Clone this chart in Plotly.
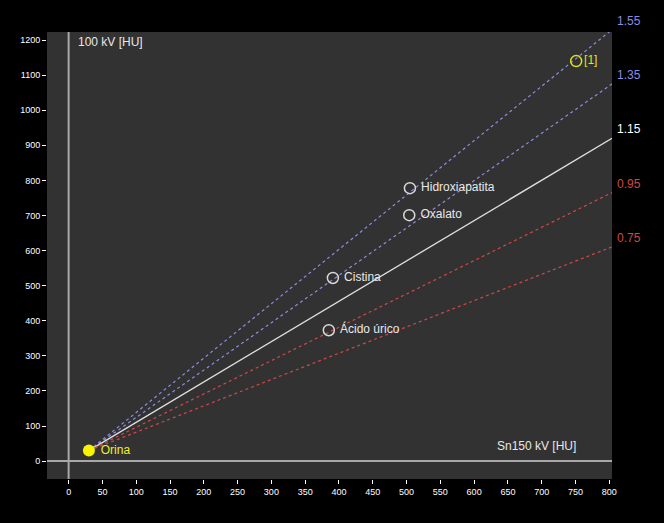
import plotly.graph_objects as go

# Data
slopes = [1.55, 1.35, 1.15, 0.95, 0.75]
slope_labels = ["1.55", "1.35", "1.15", "0.95", "0.75"]
slope_colors = ["#8c8ce0", "#8c8ce0", "#e0e0e0", "#d04848", "#d04848"]
slope_dash = ["dot", "dot", "solid", "dot", "dot"]

origin = (30, 30)  # Orina
materials = ["Hidroxiapatita", "Oxalato", "Cistina", "Ácido úrico"]
mat_x = [505, 504, 391, 385]
mat_y = [778, 701, 522, 373]
ref_label = "[1]"
ref_x, ref_y = 751, 1140

x_ticks = list(range(0, 801, 50))
y_ticks = list(range(0, 1201, 100))
x_end = 804
x_range = [-32, 804]
y_range = [-51, 1223]

fig = go.Figure()

for s, lab, col, d in zip(slopes, slope_labels, slope_colors, slope_dash):
    xe = x_end
    ye = origin[1] + s * (xe - origin[0])
    fig.add_trace(go.Scatter(x=[origin[0], xe], y=[origin[1], ye], mode="lines",
                             line=dict(color=col, width=1.3 if d == "solid" else 1.2, dash=d),
                             hoverinfo="skip", showlegend=False))
    yp = (ye - y_range[0]) / (y_range[1] - y_range[0])
    fig.add_annotation(x=1, xref="paper", y=yp, yref="paper", text=lab, showarrow=False,
                       xanchor="left", yanchor="middle", xshift=3, yshift=9,
                       font=dict(color=col if col != "#e0e0e0" else "#ffffff", size=12,
                                 family="Liberation Sans, Arial"))

# axis lines at 0
fig.add_shape(type="line", x0=0, x1=0, y0=0, y1=1, xref="x", yref="paper",
              line=dict(color="#a8a8a8", width=2))
fig.add_shape(type="line", x0=0, x1=1, y0=0, y1=0, xref="paper", yref="y",
              line=dict(color="#a8a8a8", width=2))

fig.add_trace(go.Scatter(x=mat_x, y=mat_y, mode="markers+text", text=[" " + m for m in materials],
                         textposition="middle right",
                         textfont=dict(color="#e8e8e8", size=12, family="Liberation Sans, Arial"),
                         marker=dict(symbol="circle-open", size=11, color="#d8d8d8",
                                     line=dict(width=1.5)),
                         showlegend=False, cliponaxis=False))
fig.add_trace(go.Scatter(x=[ref_x], y=[ref_y], mode="markers+text", text=[ref_label],
                         textposition="middle right",
                         textfont=dict(color="#e0e020", size=12, family="Liberation Sans, Arial"),
                         marker=dict(symbol="circle-open", size=11, color="#e0e020",
                                     line=dict(width=1.5)),
                         showlegend=False, cliponaxis=False))
fig.add_trace(go.Scatter(x=[origin[0]], y=[origin[1]], mode="markers+text", text=[" Orina"],
                         textposition="middle right",
                         textfont=dict(color="#f0f020", size=12, family="Liberation Sans, Arial"),
                         marker=dict(symbol="circle", size=12, color="#f5f500"),
                         showlegend=False, cliponaxis=False))

fig.add_annotation(x=0, xref="paper", y=1, yref="paper", text="100 kV [HU]", showarrow=False,
                   xanchor="left", yanchor="top", xshift=29, yshift=-1,
                   font=dict(color="#e8e8e8", size=12, family="Liberation Sans, Arial"))
fig.add_annotation(x=1, xref="paper", y=0, yref="y", text="Sn150 kV [HU]", showarrow=False,
                   xanchor="right", yanchor="bottom", xshift=-34, yshift=6,
                   font=dict(color="#e8e8e8", size=12, family="Liberation Sans, Arial"))

axis_common = dict(showgrid=False, zeroline=False, showline=False, ticks="outside",
                   ticklen=4, tickcolor="#ffffff", tickwidth=1,
                   tickfont=dict(color="#ffffff", size=9, family="Liberation Sans, Arial"))
fig.update_xaxes(range=x_range, tickvals=x_ticks, ticktext=[str(v) for v in x_ticks], **axis_common)
fig.update_yaxes(range=y_range, tickvals=y_ticks, ticktext=[str(v) for v in y_ticks], **axis_common)

fig.update_layout(width=664, height=523, margin=dict(l=47, r=52, t=32, b=44),
                  paper_bgcolor="#000000", plot_bgcolor="#323232", showlegend=False)

fig.write_html("out.html")
